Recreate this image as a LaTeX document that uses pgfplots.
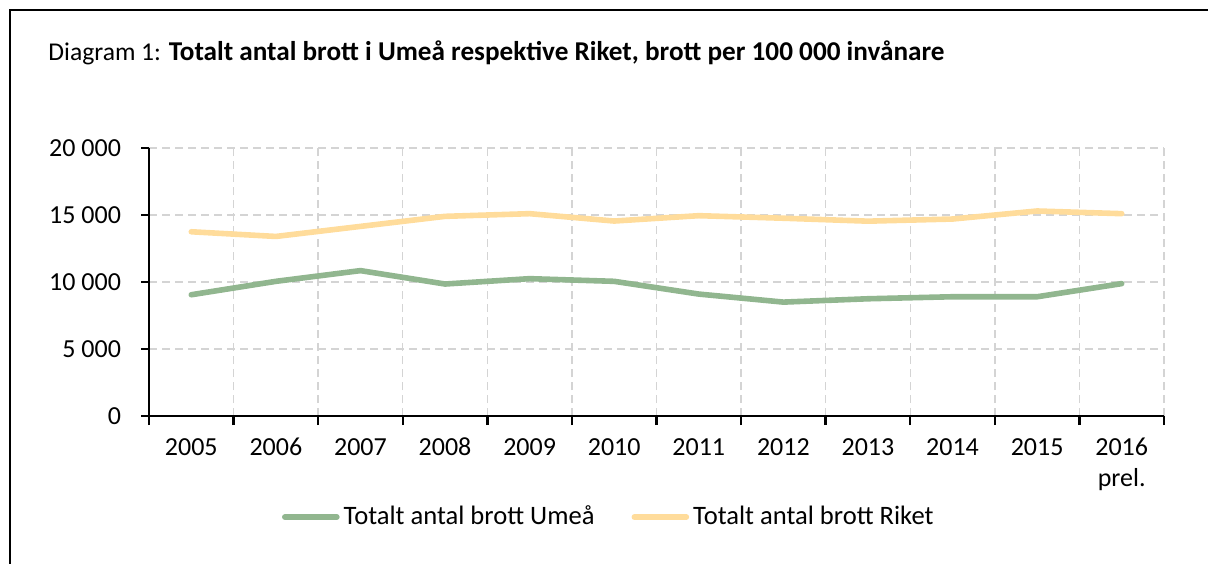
\documentclass[border=0pt]{standalone}
\usepackage{fontspec}
\setmainfont{Carlito}
\usepackage{pgfplots}
\pgfplotsset{compat=1.18}
\definecolor{umea}{RGB}{145,182,143}
\definecolor{riket}{RGB}{255,220,155}
\definecolor{gridc}{RGB}{212,212,212}

\begin{document}
\begin{tikzpicture}[x=1pt,y=1pt]
\path[use as bounding box] (0,0) rectangle (604,-281.5);
\draw[line width=0.9pt] (610,-5) -- (5,-5) -- (5,-290);
\node[anchor=base west, inner sep=0, font=\fontsize{12.8}{15}\selectfont] at (24,-30)
  {Diagram 1: {\fontsize{13.6}{15}\selectfont\bfseries Totalt antal brott i Umeå respektive Riket, brott per 100 000 invånare}};
\begin{axis}[
  at={(74.5pt,-208pt)}, anchor=south west,
  scale only axis, width=507.5pt, height=134pt,
  xmin=-0.5, xmax=11.5, ymin=0, ymax=20000,
  axis x line*=bottom, axis y line*=left,
  axis line style={line width=1.2pt, black},
  xtick={0,...,11},
  xticklabels={\strut 2005,\strut 2006,\strut 2007,\strut 2008,\strut 2009,\strut 2010,
    \strut 2011,\strut 2012,\strut 2013,\strut 2014,\strut 2015,{\strut 2016\\prel.}},
  xticklabel style={align=center, anchor=north, yshift=-1.2pt},
  major x tick style={draw=none},
  minor xtick={-0.5,0.5,...,11.5},
  minor x tick style={black, line width=1.2pt},
  xminorgrids=true, xmajorgrids=false, ymajorgrids=true,
  grid style={gridc, line width=0.7pt, dash pattern=on 4pt off 2.5pt},
  ytick={0,5000,10000,15000,20000},
  y tick style={black, line width=1.2pt},
  tick align=outside, major tick length=4pt, minor tick length=4.5pt,
  scaled y ticks=false,
  /pgf/number format/assume math mode=true,
  /pgf/number format/1000 sep={\ },
  tick label style={font=\fontsize{13}{15.5}\selectfont},
  yticklabel style={xshift=-6.5pt},
  legend columns=2,
  legend style={draw=none, at={(axis description cs:0.454,-0.377)}, anchor=center,
    font=\fontsize{13.3}{15}\selectfont,
    /tikz/every even column/.append style={column sep=16.5pt}},
  legend image code/.code={\draw[#1] (0pt,0pt) -- (26pt,0pt);},
]
\addplot[umea, line width=2.8pt, line cap=round, line join=round] coordinates {
  (0,9050) (1,10050) (2,10850) (3,9850) (4,10250) (5,10050)
  (6,9100) (7,8500) (8,8750) (9,8900) (10,8900) (11,9880)
};
\addlegendentry{Totalt antal brott Umeå}
\addplot[riket, line width=2.8pt, line cap=round, line join=round] coordinates {
  (0,13750) (1,13400) (2,14150) (3,14900) (4,15100) (5,14550)
  (6,14950) (7,14760) (8,14540) (9,14700) (10,15300) (11,15100)
};
\addlegendentry{Totalt antal brott Riket}
\end{axis}
\end{tikzpicture}
\end{document}
